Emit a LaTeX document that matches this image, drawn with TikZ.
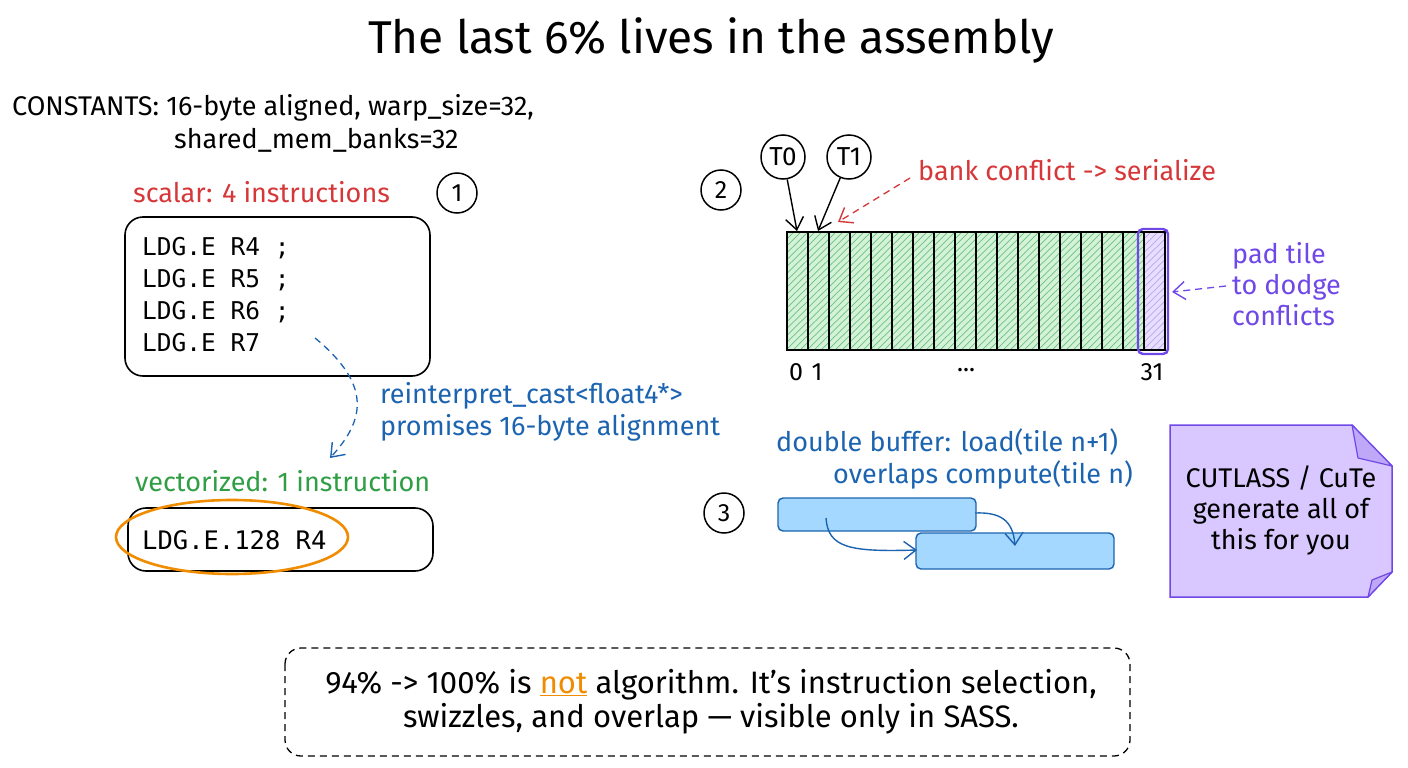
\documentclass[tikz,border=0pt]{standalone}
\usepackage{fontspec}
\setmainfont{Fira Sans}
\setmonofont{DejaVu Sans Mono}
\usetikzlibrary{arrows.meta,calc}
\definecolor{inkred}{HTML}{D6383A}
\definecolor{inkblue}{HTML}{1C64B0}
\definecolor{inkgreen}{HTML}{2F9E44}
\definecolor{inkorange}{HTML}{F08C00}
\definecolor{inkpurple}{HTML}{7048E8}
\definecolor{fillpurple}{HTML}{D8C8FF}
\definecolor{foldpurple}{HTML}{C0A8F8}
\definecolor{fillblue}{HTML}{A5D8FF}
\definecolor{fillgreen}{HTML}{D3F2D8}
\definecolor{hatchgreen}{HTML}{6CC17E}
\definecolor{hatchpurple}{HTML}{B9A5F0}
% font size with an explicit baseline distance (both in pt)
\newcommand{\fsz}[2]{\fontsize{#1}{#2}\selectfont}
\tikzset{
  txt/.style={inner sep=0pt, anchor=west, font=\fsz{27}{31}},
  codebox/.style={draw, line width=1.6pt, rounded corners=18pt},
  codetxt/.style={inner sep=0pt, anchor=west, align=left, font=\ttfamily\fsz{24.5}{32}},
  stepnum/.style={draw, circle, line width=1.5pt, minimum size=40pt, inner sep=0pt, font=\fsz{25}{28}},
  thread/.style={draw, circle, line width=1.5pt, minimum size=44pt, inner sep=0pt, font=\fsz{26}{28}},
  barb/.style={-{Straight Barb[length=12pt,width=18pt,line width=1.4pt]}},
  dashink/.style={dash pattern=on 7pt off 5pt},
  bufbox/.style={draw=inkblue, fill=fillblue, line width=1.4pt, rounded corners=5pt}
}
\begin{document}
\begin{tikzpicture}[x=1pt,y=-1pt]
\useasboundingbox (0,0) rectangle (1408,768);
\fill[white] (0,0) rectangle (1408,768);

% title
\node[inner sep=0pt, font=\fsz{46}{52}] (title) at (711,40) {The last 6\% lives in the assembly};

% constants
\node[txt] (const1) at (12,108) {CONSTANTS: 16-byte aligned, warp\_size=32,};
\node[txt] (const2) at (174,140) {shared\_mem\_banks=32};

% panel 1: scalar vs vectorized loads
\node[txt, text=inkred] (scalarlbl) at (133,192) {scalar: 4 instructions};
\node[stepnum] (one) at (457,193) {1};
\draw[codebox] (125,217) rectangle (430,376);
\node[codetxt] (scalarcode) at (142,295) {LDG.E R4 ;\\LDG.E R5 ;\\LDG.E R6 ;\\LDG.E R7};
\coordinate (castfrom) at (315,338);
\coordinate (castto) at (330,458);
\draw[inkblue, line width=1.3pt, dashink, barb] (castfrom) .. controls (372,385) and (365,420) .. (castto);
\node[txt, text=inkblue, align=left, font=\fsz{27}{32}] (castlbl) at (380,412) {reinterpret\_cast<float4*>\\promises 16-byte alignment};
\node[txt, text=inkgreen] (veclbl) at (135,481) {vectorized: 1 instruction};
\draw[codebox] (128,508) rectangle (433,571);
\node[codetxt, font=\ttfamily\fsz{25.5}{32}] (veccode) at (142,540) {LDG.E.128 R4};
\draw[inkorange, line width=2.6pt] (232,537) ellipse (116pt and 37pt);

% panel 2: shared memory banks
\node[stepnum] (two) at (721,190) {2};
\node[thread] (t0) at (783,157) {T0};
\node[thread] (t1) at (849,157) {T1};
\coordinate (bank0) at (797,231);
\coordinate (bank1) at (818,231);
\draw[line width=1.4pt, barb] (t0) -- (bank0);
\draw[line width=1.4pt, barb] (t1) -- (bank1);
\node[txt, text=inkred] (conflictlbl) at (918,170) {bank conflict -> serialize};
\coordinate (conflictfrom) at (910,178);
\coordinate (conflictto) at (838,222);
\draw[inkred, line width=1.3pt, dashink, barb] (conflictfrom) -- (conflictto);

\fill[fillgreen] (787,232) rectangle (1144,350);
\fill[fillpurple!60] (1144,232) rectangle (1165,350);
\begin{scope}
  \clip (787,232) rectangle (1144,350);
  \foreach \k in {0,7,...,490} {
    \draw[hatchgreen, line width=0.7pt] (787+\k-120,350) -- (787+\k,232);
  }
\end{scope}
\begin{scope}
  \clip (1144,232) rectangle (1165,350);
  \foreach \k in {0,7,...,160} {
    \draw[hatchpurple, line width=0.7pt] (1144+\k-120,350) -- (1144+\k,232);
  }
\end{scope}
\draw[line width=1.5pt] (787,232) rectangle (1165,350);
\foreach \i in {1,...,17} {
  \draw[line width=1.5pt] (787+21*\i,232) -- (787+21*\i,350);
}
\draw[inkpurple, line width=2.4pt, rounded corners=5pt] (1138,229) rectangle (1168,354);
\node[inner sep=0pt, font=\fsz{25}{30}] (b0) at (796,372) {0};
\node[inner sep=0pt, font=\fsz{25}{30}] (b1) at (817,372) {1};
\node[inner sep=0pt, font=\fsz{25}{30}] (bdots) at (966,370) {...};
\node[inner sep=0pt, font=\fsz{25}{30}] (b31) at (1152,372) {31};
\node[txt, text=inkpurple, align=left] (padlbl) at (1232,284) {pad tile\\to dodge\\conflicts};
\coordinate (padfrom) at (1226,286);
\coordinate (padto) at (1172,292);
\draw[inkpurple, line width=1.3pt, dashink, barb] (padfrom) -- (padto);

% panel 3: double buffering
\node[stepnum] (three) at (724,513) {3};
\node[txt, text=inkblue] (dbl1) at (776,442) {double buffer: load(tile n+1)};
\node[txt, text=inkblue] (dbl2) at (833,475) {overlaps compute(tile n)};
\draw[bufbox] (778,498) rectangle (976,531);
\draw[bufbox] (916,533) rectangle (1114,569);
\coordinate (loadfrom) at (826,518);
\coordinate (loadto) at (917,550);
\coordinate (compfrom) at (975,513);
\coordinate (compto) at (1015,546);
\draw[inkblue, line width=1.4pt, barb] (loadfrom) .. controls (828,548) and (850,552) .. (loadto);
\draw[inkblue, line width=1.4pt, barb] (compfrom) .. controls (1000,512) and (1013,520) .. (compto);

% note
\draw[inkpurple, fill=fillpurple, line width=1.5pt]
  (1170,425) -- (1352,425) -- (1392,466) -- (1392,572) -- (1368,597) -- (1170,597) -- cycle;
\draw[inkpurple, fill=foldpurple, line width=1.2pt, line join=round]
  (1352,425) -- (1358,458) -- (1392,466) -- cycle;
\draw[inkpurple, fill=foldpurple, line width=1.2pt, line join=round]
  (1392,572) -- (1372,580) -- (1368,597) -- cycle;
\node[inner sep=0pt, align=center, font=\fsz{27}{31}] (note) at (1281,510) {CUTLASS / CuTe\\generate all of\\this for you};

% summary
\draw[line width=1.3pt, dashink, rounded corners=16pt] (285,648) rectangle (1130,756);
\node[inner sep=0pt, align=center, font=\fsz{31}{34}] (summary) at (711,702)
  {94\% -> 100\% is \textcolor{inkorange}{\underline{not}} algorithm. It's instruction selection,\\swizzles, and overlap --- visible only in SASS.};
\end{tikzpicture}
\end{document}
